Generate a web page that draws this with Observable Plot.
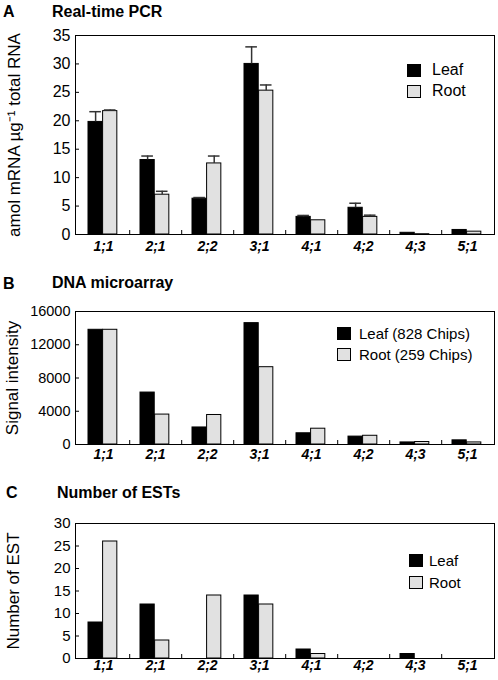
<!DOCTYPE html>
<html>
<head>
<meta charset="utf-8">
<script src="https://cdn.jsdelivr.net/npm/d3@7"></script>
<script src="https://cdn.jsdelivr.net/npm/@observablehq/plot@0.6"></script>
<style>
  body { margin: 0; background: white; }
  #wrap { position: relative; width: 498px; height: 680px; font-family: "Liberation Sans", Arial, sans-serif; color: black; }
  .svgbox { position: absolute; left: 0; }
  .letter { position: absolute; font-weight: bold; font-size: 16px; line-height: 1; }
  .title { position: absolute; font-weight: bold; font-size: 16px; line-height: 1; white-space: nowrap; }
  .sw { position: absolute; width: 12px; height: 11px; border: 1px solid black; }
  .lt { position: absolute; white-space: nowrap; line-height: 1; }
</style>
</head>
<body>
<div id="wrap"></div>
<script>
// ---------- data ----------
const categories = ["1;1", "2;1", "2;2", "3;1", "4;1", "4;2", "4;3", "5;1"];
const seriesNames = ["Leaf", "Root"];

// A: Real-time PCR (amol mRNA per µg total RNA), with one-sided error
const pcrLeaf   = [19.8, 13.1, 6.3, 30.0, 3.1, 4.7, 0.3, 0.8];
const pcrLeafSd = [1.8, 0.7, 0.2, 3.0, 0.25, 0.8, 0, 0];
const pcrRoot   = [21.7, 7.0, 12.5, 25.3, 2.5, 3.1, 0.05, 0.5];
const pcrRootSd = [0.2, 0.6, 1.3, 1.0, 0, 0.3, 0, 0];
const pcrTicks  = [0, 5, 10, 15, 20, 25, 30, 35];

// B: DNA microarray signal intensity
const arrLeaf  = [13800, 6250, 2050, 14600, 1350, 950, 250, 500];
const arrRoot  = [13800, 3600, 3550, 9300, 1900, 1050, 300, 250];
const arrTicks = [0, 4000, 8000, 12000, 16000];

// C: Number of ESTs
const estLeaf  = [8, 12, 0, 14, 2, 0, 1, 0];
const estRoot  = [26, 4, 14, 12, 1, 0, 0, 0];
const estTicks = [0, 5, 10, 15, 20, 25, 30];

// ---------- drawing ----------
const W = 498, ML = 75, MR = 4;
const FONT = "'Liberation Sans', Arial, sans-serif";
const bw = (W - ML - MR) / categories.length;
const barW = 14.6;
const leafIn = 11, rootIn = leafIn + barW;
const leafC = leafIn + barW / 2, rootC = rootIn + barW / 2;
const ROOT_FILL = "#e1e1e1";

function panel(o) {
  const rows = categories.map((c, i) => ({
    cat: c, leaf: o.leaf[i], root: o.root[i],
    leafSd: o.leafSd ? o.leafSd[i] : 0, rootSd: o.rootSd ? o.rootSd[i] : 0
  }));
  const plotH = o.height - o.mt - o.mb;
  const plotW = W - ML - MR;
  const marks = [
    Plot.barY(rows, {x: "cat", y: "leaf", fill: "black", stroke: "black", strokeWidth: 1,
      insetLeft: leafIn, insetRight: bw - leafIn - barW}),
    Plot.barY(rows, {x: "cat", y: "root", fill: ROOT_FILL, stroke: "black", strokeWidth: 1,
      insetLeft: rootIn, insetRight: bw - rootIn - barW})
  ];
  if (o.leafSd) {
    const le = rows.filter(d => d.leafSd > 0), re = rows.filter(d => d.rootSd > 0);
    marks.push(
      Plot.ruleX(le, {x: "cat", y1: "leaf", y2: d => d.leaf + d.leafSd, dx: leafC - bw / 2, stroke: "#333", strokeWidth: 1.5}),
      Plot.tickY(le, {x: "cat", y: d => d.leaf + d.leafSd, insetLeft: leafC - 6, insetRight: bw - leafC - 6, stroke: "#333", strokeWidth: 1.5}),
      Plot.ruleX(re, {x: "cat", y1: "root", y2: d => d.root + d.rootSd, dx: rootC - bw / 2, stroke: "#333", strokeWidth: 1.5}),
      Plot.tickY(re, {x: "cat", y: d => d.root + d.rootSd, insetLeft: rootC - 6, insetRight: bw - rootC - 6, stroke: "#333", strokeWidth: 1.5})
    );
  }
  marks.push(
    // inward tick marks
    Plot.tickX(categories.slice(0, -1), {x: d => d, dx: bw / 2, insetTop: plotH - 4, stroke: "black"}),
    Plot.tickY(o.ticks, {y: d => d, insetRight: plotW - 4, stroke: "black"}),
    Plot.frame({stroke: "black", strokeWidth: 1}),
    Plot.axisY({ticks: o.ticks, tickFormat: d3.format("d"), tickSize: 0, tickPadding: 5, fontSize: o.yFont, label: null}),
    Plot.axisX({tickSize: 0, tickPadding: o.xPad, fontSize: 14, fontWeight: "bold", fontStyle: "italic", label: null}),
    Plot.text([o.ylabel], {text: d => d, frameAnchor: "left", textAnchor: "middle", lineAnchor: "middle",
      rotate: -90, dx: o.labelDx, fontSize: 17})
  );
  return Plot.plot({
    width: W, height: o.height,
    marginTop: o.mt, marginBottom: o.mb, marginLeft: ML, marginRight: MR,
    style: {fontFamily: FONT, fontSize: "15px", color: "black", background: "transparent", overflow: "visible"},
    x: {domain: categories, padding: 0, label: null, axis: null},
    y: {domain: o.domain, label: null, axis: null},
    marks
  });
}

const wrap = document.getElementById("wrap");
function place(el, top) {
  const d = document.createElement("div");
  d.className = "svgbox";
  d.style.top = top + "px";
  d.appendChild(el);
  wrap.appendChild(d);
}
function addText(cls, text, left, top) {
  const d = document.createElement("div");
  d.className = cls;
  d.textContent = text;
  d.style.left = left + "px";
  d.style.top = top + "px";
  wrap.appendChild(d);
}
function legend(names, left, top, gap, textLeft, fontSize) {
  names.forEach((n, i) => {
    const s = document.createElement("div");
    s.className = "sw";
    s.style.left = left + "px";
    s.style.top = (top + i * gap) + "px";
    s.style.background = i === 0 ? "black" : ROOT_FILL;
    wrap.appendChild(s);
    const t = document.createElement("div");
    t.className = "lt";
    t.textContent = n;
    t.style.fontSize = fontSize + "px";
    t.style.left = textLeft + "px";
    t.style.top = (top + i * gap - (fontSize - 14)) + "px";
    wrap.appendChild(t);
  });
}

// Panel A
place(panel({height: 265, mt: 35, mb: 31, domain: [0, 35], ticks: pcrTicks, yFont: 16,
  leaf: pcrLeaf, root: pcrRoot, leafSd: pcrLeafSd, rootSd: pcrRootSd,
  ylabel: "amol mRNA µg⁻¹ total RNA", labelDx: -61, xPad: 7}), 0);
// Panel B
place(panel({height: 205, mt: 46, mb: 26, domain: [0, 16000], ticks: arrTicks, yFont: 14.5,
  leaf: arrLeaf, root: arrRoot, ylabel: "Signal intensity", labelDx: -63, xPad: 5}), 265);
// Panel C
place(panel({height: 210, mt: 53, mb: 22, domain: [0, 30], ticks: estTicks, yFont: 15,
  leaf: estLeaf, root: estRoot, ylabel: "Number of EST", labelDx: -62, xPad: 2}), 470);

addText("letter", "A", 3, 4);
addText("title", "Real-time PCR", 52, 4);
addText("letter", "B", 3, 276);
addText("title", "DNA microarray", 52, 275);
addText("letter", "C", 6, 485);
addText("title", "Number of ESTs", 57, 485);

legend(seriesNames, 407, 64, 21, 432, 16);
legend([seriesNames[0] + " (828 Chips)", seriesNames[1] + " (259 Chips)"], 337, 327, 21, 359, 15);
legend(seriesNames, 409, 554, 22, 429, 15);
</script>
</body>
</html>
